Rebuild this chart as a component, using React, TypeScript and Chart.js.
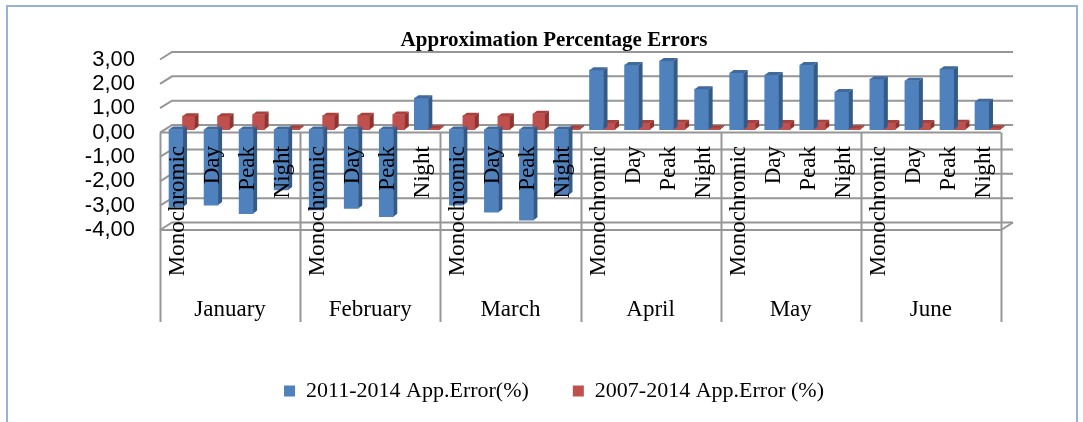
import React, { useEffect, useRef } from "react";
import { Chart, registerables } from "chart.js";

Chart.register(...registerables);

const months = ["January", "February", "March", "April", "May", "June"];
const types = ["Monochromic", "Day", "Peak", "Night"];
const series1Label = "2011-2014 App.Error(%)";
const series2Label = "2007-2014 App.Error (%)";
// 24 values: month by month, in the order Monochromic, Day, Peak, Night
const err2011 = [
  -3.18, -3.1, -3.45, -2.48,
  -3.3, -3.24, -3.58, 1.29,
  -3.1, -3.39, -3.72, -2.69,
  2.44, 2.65, 2.82, 1.66,
  2.32, 2.24, 2.65, 1.54,
  2.07, 2.0, 2.48, 1.14,
];
const err2007 = [
  0.55, 0.55, 0.62, 0.05,
  0.57, 0.57, 0.62, 0.05,
  0.57, 0.55, 0.65, 0.05,
  0.27, 0.27, 0.28, 0.05,
  0.27, 0.27, 0.28, 0.05,
  0.27, 0.27, 0.28, 0.05,
];
const yTicks = [-4, -3, -2, -1, 0, 1, 2, 3];
const title = "Approximation Percentage Errors";

const categories = months.flatMap((m) => types.map((t) => `${m} ${t}`));

const BLUE = "#4f81bd";
const BLUE_SIDE = "#345a88";
const BLUE_TOP = "#40699c";
const RED = "#c0504d";
const RED_SIDE = "#8e3431";
const RED_TOP = "#a8403d";
const GRID = "#969696";
const SERIF = "'Liberation Serif', 'Times New Roman', serif";
const SANS = "'Liberation Sans', Arial, sans-serif";

const DX = 4;
const DY = 3;
const BACK_DX = 12;
const BACK_DY = 7.5;

const shiftPlugin = {
  id: "shift3d",
  afterDatasetsUpdate(chart: any) {
    chart.data.datasets.forEach((ds: any, i: number) => {
      const meta = chart.getDatasetMeta(i);
      meta.data.forEach((el: any) => {
        el.x += ds._dx;
        el.y -= 3;
        el.base -= 3;
      });
    });
  },
  afterLayout(chart: any) {
    if (chart.legend) {
      chart.legend.left += 11;
      chart.legend.right += 11;
    }
  },
};

const facesPlugin = {
  id: "faces3d",
  afterDatasetDraw(chart: any, args: any) {
    const ds = chart.data.datasets[args.index];
    const meta = args.meta;
    const ctx = chart.ctx;
    ctx.save();
    meta.data.forEach((el: any) => {
      const L = el.x - el.width / 2;
      const R = el.x + el.width / 2;
      const yt = Math.min(el.y, el.base);
      const yb = Math.max(el.y, el.base);
      ctx.fillStyle = ds._top;
      ctx.beginPath();
      ctx.moveTo(L, yt);
      ctx.lineTo(L + DX, yt - DY);
      ctx.lineTo(R + DX, yt - DY);
      ctx.lineTo(R, yt);
      ctx.closePath();
      ctx.fill();
      ctx.fillStyle = ds._side;
      ctx.beginPath();
      ctx.moveTo(R, yt);
      ctx.lineTo(R + DX, yt - DY);
      ctx.lineTo(R + DX, yb - DY);
      ctx.lineTo(R, yb);
      ctx.closePath();
      ctx.fill();
    });
    ctx.restore();
  },
};

const decorPlugin = {
  id: "decor",
  beforeDraw(chart: any) {
    const ctx = chart.ctx;
    ctx.save();
    ctx.fillStyle = "#ffffff";
    ctx.fillRect(0, 0, chart.width, chart.height);
    ctx.strokeStyle = "#95b3d7";
    ctx.lineWidth = 2;
    ctx.strokeRect(7, 6, 1070, 440);
    ctx.restore();
  },
  beforeDatasetsDraw(chart: any) {
    const ctx = chart.ctx;
    const { left, right } = chart.chartArea;
    const y = chart.scales.y;
    ctx.save();
    ctx.strokeStyle = GRID;
    ctx.lineWidth = 2;
    yTicks.forEach((v) => {
      const py = y.getPixelForValue(v);
      ctx.beginPath();
      ctx.moveTo(left, py);
      ctx.lineTo(left + BACK_DX, py - BACK_DY);
      ctx.lineTo(right + BACK_DX, py - BACK_DY);
      ctx.stroke();
    });
    // floor right edge and front floor line
    const pMin = y.getPixelForValue(yTicks[0]);
    ctx.beginPath();
    ctx.moveTo(right + BACK_DX, pMin - BACK_DY);
    ctx.lineTo(right, pMin);
    ctx.lineTo(left, pMin);
    ctx.stroke();
    // front zero line
    const p0 = y.getPixelForValue(0);
    ctx.beginPath();
    ctx.moveTo(left, p0);
    ctx.lineTo(right, p0);
    ctx.stroke();
    // month separators
    const step = (right - left) / categories.length;
    for (let m = 0; m <= months.length; m++) {
      const px = Math.round(left + m * types.length * step) + 0.5;
      ctx.beginPath();
      ctx.moveTo(px, p0);
      ctx.lineTo(px, 322);
      ctx.stroke();
    }
    ctx.restore();
  },
  afterDatasetsDraw(chart: any) {
    const ctx = chart.ctx;
    const x = chart.scales.x;
    const { left, right } = chart.chartArea;
    const step = (right - left) / categories.length;
    ctx.save();
    ctx.fillStyle = "#000";
    ctx.font = `23px ${SERIF}`;
    categories.forEach((_, i) => {
      const cx = x.getPixelForValue(i);
      ctx.save();
      ctx.translate(cx + 6.5, 146);
      ctx.rotate(-Math.PI / 2);
      ctx.textAlign = "right";
      ctx.textBaseline = "alphabetic";
      ctx.fillText(types[i % types.length], 0, 0);
      ctx.restore();
    });
    ctx.textAlign = "center";
    ctx.textBaseline = "alphabetic";
    months.forEach((m, k) => {
      const cx = left + (k + 0.5) * types.length * step;
      ctx.fillText(m, cx, 316);
    });
    ctx.font = `bold 21px ${SERIF}`;
    ctx.fillText(title, 554, 46);
    ctx.restore();
  },
};

export default function App() {
  const ref = useRef<HTMLCanvasElement | null>(null);
  useEffect(() => {
    if (!ref.current) return;
    const chart = new Chart(ref.current, {
      type: "bar",
      data: {
        labels: categories,
        datasets: [
          {
            label: series1Label,
            data: err2011,
            backgroundColor: BLUE,
            borderWidth: 0,
            barThickness: 14,
            order: 0,
            _dx: -1.5,
            _side: BLUE_SIDE,
            _top: BLUE_TOP,
          } as any,
          {
            label: series2Label,
            data: err2007,
            backgroundColor: RED,
            borderWidth: 0,
            barThickness: 12,
            order: 1,
            _dx: 11,
            _side: RED_SIDE,
            _top: RED_TOP,
          } as any,
        ],
      },
      options: {
        responsive: false,
        animation: false,
        events: [],
        color: "#000",
        datasets: { bar: { grouped: false } },
        layout: { padding: { left: 85, right: 82, top: 59.5, bottom: 10 } },
        plugins: {
          title: { display: false },
          tooltip: { enabled: false },
          legend: {
            display: true,
            position: "bottom",
            labels: {
              color: "#000",
              boxWidth: 11,
              boxHeight: 11,
              padding: 44,
              font: { family: SERIF, size: 22 },
            },
          },
        },
        scales: {
          x: {
            type: "category",
            ticks: { display: false },
            grid: { display: false, drawTicks: false },
            border: { display: false },
            afterFit: (s: any) => {
              s.height = 106;
            },
          },
          y: {
            min: -4,
            max: 3,
            ticks: {
              stepSize: 1,
              autoSkip: false,
              color: "#000",
              padding: 25,
              font: { family: SANS, size: 22 },
              callback: (v: any) => Number(v).toFixed(2).replace(".", ","),
            },
            grid: { display: false, drawTicks: false },
            border: { display: false },
            afterFit: (s: any) => {
              s.width = 75;
            },
          },
        },
      },
      plugins: [shiftPlugin, facesPlugin, decorPlugin],
    } as any);
    return () => chart.destroy();
  }, []);
  return (
    <div style={{ position: "fixed", left: 0, top: 0, width: 1083, height: 422, background: "#fff" }}>
      <canvas ref={ref} width={1083} height={422} />
    </div>
  );
}
